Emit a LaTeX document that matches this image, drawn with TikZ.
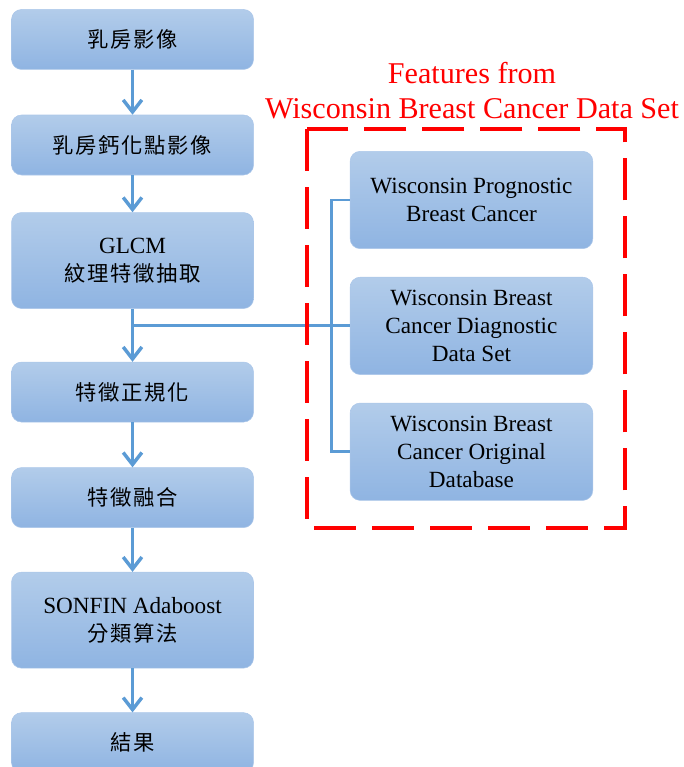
\documentclass[tikz,border=0pt]{standalone}
\usepackage{fontspec}
\setmainfont{Liberation Serif}
\newfontfamily\cjk[LetterSpace=8]{Noto Sans CJK TC}
\newcommand{\zhtext}[1]{{\cjk\fontsize{16pt}{21pt}\selectfont #1}}
\usetikzlibrary{arrows.meta, positioning, calc}
\definecolor{boxtop}{RGB}{178,204,234}
\definecolor{boxbottom}{RGB}{143,180,226}
\definecolor{boxline}{RGB}{172,199,233}
\definecolor{flowblue}{RGB}{91,155,213}
\tikzstyle{stepbox} = [rectangle, rounded corners=7.5pt, minimum width=181.5pt, minimum height=45pt,
                       align=center, draw=boxline, line width=0.4pt, top color=boxtop, bottom color=boxbottom,
                       font=\fontsize{17.4pt}{21pt}\selectfont]
\tikzstyle{tallbox} = [stepbox, minimum height=72pt]
\tikzstyle{databox} = [stepbox, minimum width=182pt, minimum height=73pt]
\tikzstyle{arrow} = [line width=2.6pt, draw=flowblue, -{Straight Barb[length=9pt,width=14pt]}]
\tikzstyle{link} = [line width=2.2pt, draw=flowblue]
\tikzstyle{groupframe} = [draw=red, line width=3pt, dash pattern=on 31.5pt off 12pt]

\begin{document}
\begin{tikzpicture}
    \useasboundingbox (0,0) rectangle (512.25pt,-575.25pt);

    % Left column: processing steps
    \node[stepbox] (image) at (99.4pt,-29.6pt) {\zhtext{乳房影像}};
    \node[stepbox, below=33.75pt of image] (calcimg) {\zhtext{乳房鈣化點影像}};
    \node[tallbox, below=27.75pt of calcimg] (glcm) {GLCM\\\zhtext{紋理特徵抽取}};
    \node[stepbox, below=39.75pt of glcm] (norm) {\zhtext{特徵正規化}};
    \node[stepbox, below=33.75pt of norm] (fusion) {\zhtext{特徵融合}};
    \node[tallbox, below=33pt of fusion] (sonfin) {SONFIN Adaboost\\\zhtext{分類算法}};
    \node[stepbox, below=33pt of sonfin] (result) {\zhtext{結果}};

    % Right column: data sets
    \node[databox] (wpbc) at (353.6pt,-150pt) {Wisconsin Prognostic\\Breast Cancer};
    \node[databox, below=21pt of wpbc] (wbcd) {Wisconsin Breast\\Cancer Diagnostic\\Data Set};
    \node[databox, below=21pt of wbcd] (wbco) {Wisconsin Breast\\Cancer Original\\Database};

    % Arrows
    \draw[arrow] (image) -- (calcimg);
    \draw[arrow] (calcimg) -- (glcm);
    \draw[arrow] (glcm) -- (norm);
    \draw[arrow] (norm) -- (fusion);
    \draw[arrow] (fusion) -- (sonfin);
    \draw[arrow] (sonfin) -- (result);

    % Data set links
    \draw[link] (wpbc.west) -- ++(-13.5pt,0) coordinate (bend) |- (wbco.west);
    \draw[link] (wbcd.west) -- (wbcd.west -| glcm.south);

    % Frame and title
    \draw[groupframe] ($(wpbc.north west)+(-32.25pt,16.5pt)$) rectangle ($(wbco.south east)+(24pt,-20.25pt)$);
    \node[font=\fontsize{22.6pt}{26.5pt}\selectfont, text=red, align=center] (title) at (354pt,-67.9pt)
        {Features from\\Wisconsin Breast Cancer Data Set};
\end{tikzpicture}
\end{document}
